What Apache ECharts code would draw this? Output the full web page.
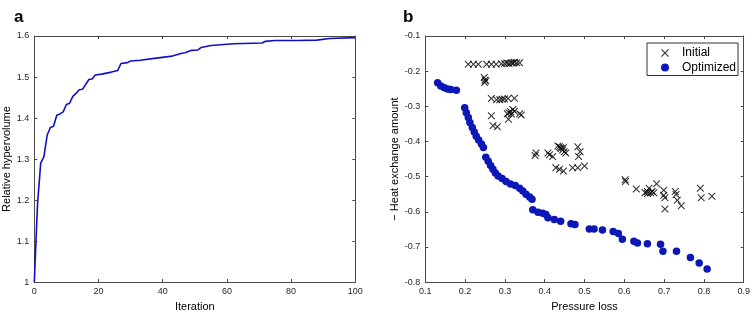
<!DOCTYPE html>
<html>
<head>
<meta charset="utf-8">
<script src="https://cdn.jsdelivr.net/npm/echarts@6/dist/echarts.min.js"></script>
<style>html,body{margin:0;padding:0;background:#fff;}#c{width:753px;height:317px;}</style>
</head>
<body>
<div id="c"></div>
<script>
// Panel a: relative hypervolume vs iteration
const iterations = [0,1,2,3,4,5,6,7,8,9,10,11,12,13,14,15,17,18,19,21,24,26,27,29,30,33,38,43,46,47,49,51,52,55,62,71,72,75,82,88,92,100];
const hypervolume = [1.0,1.19,1.29,1.306,1.358,1.377,1.38,1.407,1.41,1.415,1.433,1.436,1.453,1.46,1.469,1.47,1.494,1.495,1.505,1.507,1.512,1.516,1.533,1.535,1.539,1.541,1.546,1.551,1.558,1.559,1.565,1.566,1.572,1.577,1.581,1.583,1.587,1.589,1.589,1.590,1.594,1.596];

// Panel b: [pressure loss, -heat exchange amount]
const initialPoints = [
  [0.208,-0.180],[0.221,-0.180],[0.233,-0.180],[0.254,-0.180],[0.266,-0.180],[0.278,-0.180],[0.291,-0.179],[0.299,-0.178],[0.305,-0.177],[0.310,-0.178],[0.316,-0.176],[0.320,-0.177],[0.324,-0.175],[0.330,-0.176],[0.337,-0.176],
  [0.248,-0.218],[0.250,-0.225],[0.249,-0.232],[0.252,-0.228],
  [0.266,-0.278],[0.279,-0.281],[0.287,-0.281],[0.293,-0.280],[0.299,-0.279],[0.308,-0.278],[0.324,-0.277],
  [0.266,-0.327],[0.306,-0.321],[0.309,-0.337],[0.314,-0.315],[0.320,-0.309],[0.324,-0.314],[0.337,-0.321],[0.341,-0.325],[0.270,-0.355],[0.281,-0.358],[0.310,-0.318],[0.316,-0.322],
  [0.378,-0.433],[0.376,-0.440],[0.408,-0.433],[0.412,-0.438],[0.420,-0.443],[0.433,-0.413],[0.437,-0.415],[0.441,-0.420],[0.445,-0.424],[0.449,-0.429],[0.453,-0.433],[0.440,-0.418],[0.447,-0.418],
  [0.428,-0.475],[0.437,-0.479],[0.447,-0.484],[0.470,-0.475],[0.483,-0.475],[0.500,-0.470],[0.483,-0.415],[0.489,-0.429],[0.485,-0.443],
  [0.602,-0.509],[0.603,-0.514],[0.630,-0.535],[0.652,-0.546],[0.658,-0.542],[0.662,-0.533],[0.666,-0.546],[0.670,-0.542],[0.674,-0.546],[0.658,-0.548],[0.681,-0.520],
  [0.699,-0.539],[0.699,-0.553],[0.702,-0.560],[0.702,-0.592],[0.728,-0.542],[0.730,-0.551],[0.733,-0.567],[0.743,-0.583],[0.791,-0.533],[0.793,-0.560],[0.820,-0.556]
];
const optimizedPoints = [
  [0.131,-0.233],[0.139,-0.242],[0.148,-0.247],[0.156,-0.251],[0.164,-0.252],[0.178,-0.254],
  [0.199,-0.304],[0.203,-0.318],[0.208,-0.332],[0.212,-0.346],[0.218,-0.360],[0.223,-0.373],[0.228,-0.385],[0.234,-0.396],[0.241,-0.407],[0.246,-0.417],
  [0.252,-0.445],[0.258,-0.456],[0.264,-0.468],[0.270,-0.479],[0.276,-0.490],[0.283,-0.498],[0.293,-0.505],[0.303,-0.514],[0.314,-0.521],[0.326,-0.525],[0.337,-0.533],[0.345,-0.541],[0.353,-0.550],[0.362,-0.558],[0.368,-0.564],
  [0.370,-0.594],[0.383,-0.601],[0.395,-0.604],[0.403,-0.608],[0.408,-0.617],[0.424,-0.622],[0.440,-0.627],
  [0.466,-0.634],[0.476,-0.636],[0.512,-0.649],[0.524,-0.649],[0.545,-0.652],[0.572,-0.656],[0.585,-0.662],[0.595,-0.678],[0.624,-0.684],[0.633,-0.689],[0.658,-0.691],[0.691,-0.692],
  [0.697,-0.712],[0.731,-0.712],[0.766,-0.730],[0.788,-0.746],[0.808,-0.763]
];
const seriesNames = ['Initial','Optimized'];

const FONT = 'Liberation Sans, Arial, sans-serif';
const AX = '#4a4a4a';
const crossPath = 'path://M0,1L1,0L5,4L9,0L10,1L6,5L10,9L9,10L5,6L1,10L0,9L4,5Z';

function xAx(grid, min, max, interval, name, show) {
  return {
    type: 'value', gridIndex: grid, min: min, max: max, interval: interval,
    position: show ? 'bottom' : 'top',
    name: show ? name : '', nameLocation: 'middle', nameGap: 17,
    nameTextStyle: {fontFamily: FONT, fontSize: 11, color: '#000'},
    axisLine: {show: true, onZero: false, lineStyle: {color: AX, width: 1}},
    axisTick: {show: true, inside: true, length: 3, lineStyle: {color: AX}},
    axisLabel: {show: show, fontFamily: FONT, fontSize: 9, color: '#262626', margin: 5},
    splitLine: {show: false}
  };
}
function yAx(grid, min, max, interval, name, gap, show) {
  return {
    type: 'value', gridIndex: grid, min: min, max: max, interval: interval,
    position: show ? 'left' : 'right',
    name: show ? name : '', nameLocation: 'middle', nameGap: gap,
    nameTextStyle: {fontFamily: FONT, fontSize: 11, color: '#000'},
    axisLine: {show: true, onZero: false, lineStyle: {color: AX, width: 1}},
    axisTick: {show: true, inside: true, length: 3, lineStyle: {color: AX}},
    axisLabel: {show: show, fontFamily: FONT, fontSize: 9, color: '#262626', margin: 5},
    splitLine: {show: false}
  };
}

const chart = echarts.init(document.getElementById('c'), null, {renderer: 'canvas'});
chart.setOption({
  animation: false,
  backgroundColor: '#fff',
  title: [
    {text: 'a', left: 9, top: 4, textStyle: {fontFamily: FONT, fontSize: 17, fontWeight: 'bold', color: '#000'}},
    {text: 'b', left: 398, top: 4, textStyle: {fontFamily: FONT, fontSize: 17, fontWeight: 'bold', color: '#000'}}
  ],
  grid: [
    {left: 34.3, right: 397.7, top: 36, bottom: 27.7, containLabel: false},
    {left: 425.3, right: 7.7, top: 36, bottom: 27.7, containLabel: false}
  ],
  xAxis: [
    xAx(0, 0, 100, 20, 'Iteration', true),
    xAx(0, 0, 100, 20, '', false),
    xAx(1, 0.1, 0.9, 0.1, 'Pressure loss', true),
    xAx(1, 0.1, 0.9, 0.1, '', false)
  ],
  yAxis: [
    yAx(0, 1, 1.6, 0.1, 'Relative hypervolume', 19, true),
    yAx(0, 1, 1.6, 0.1, '', 0, false),
    yAx(1, -0.8, -0.1, 0.1, '\u2212 Heat exchange amount', 23, true),
    yAx(1, -0.8, -0.1, 0.1, '', 0, false)
  ],
  legend: {
    data: seriesNames,
    orient: 'vertical',
    left: 647, top: 43,
    padding: [4, 2, 2, 14],
    itemWidth: 24, itemHeight: 8, itemGap: 2.5,
    borderColor: '#333', borderWidth: 1, backgroundColor: '#fff',
    textStyle: {fontFamily: FONT, fontSize: 12, color: '#000'}
  },
  series: [
    {
      type: 'line', xAxisIndex: 0, yAxisIndex: 0,
      data: iterations.map((it, i) => [it, hypervolume[i]]),
      showSymbol: false, symbol: 'none',
      lineStyle: {color: '#1010c8', width: 1.6},
      z: 3
    },
    {
      name: seriesNames[0], type: 'scatter', xAxisIndex: 2, yAxisIndex: 2,
      data: initialPoints, symbol: crossPath, symbolSize: 7.5,
      itemStyle: {color: '#000'}, z: 3
    },
    {
      name: seriesNames[1], type: 'scatter', xAxisIndex: 2, yAxisIndex: 2,
      data: optimizedPoints, symbol: 'circle', symbolSize: 7.5,
      itemStyle: {color: '#0b17b6', opacity: 1}, z: 4
    }
  ]
});
</script>
</body>
</html>
